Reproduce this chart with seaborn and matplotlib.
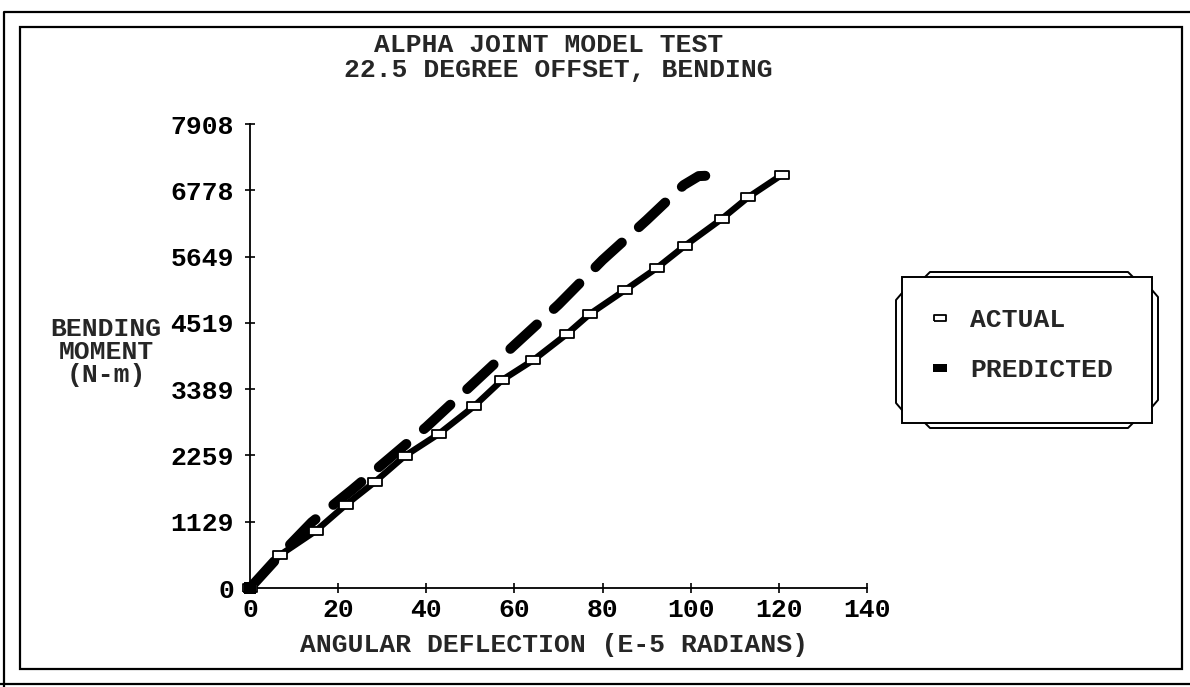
import numpy as np
import pandas as pd
import matplotlib.pyplot as plt
import seaborn as sns
from matplotlib.lines import Line2D
from matplotlib.patches import Rectangle

# --- data ---
deflection_actual = [0, 6.8, 14.9, 21.7, 28.3, 35.1, 42.8, 50.9, 57.2, 64.3,
                     71.9, 77.1, 85.1, 92.3, 98.6, 107.0, 113.1, 120.6]
moment_actual = [0, 562, 971, 1414, 1806, 2249, 2624, 3101, 3544, 3885,
                 4328, 4669, 5078, 5453, 5828, 6288, 6663, 7038]

deflection_pred = [0, 6.8, 14.0, 23.1, 31.7, 40.0, 50.0, 60.0, 70.0, 80.0,
                   90.0, 98.4, 101.8, 103.3]
moment_pred = [0, 562, 1120, 1670, 2215, 2743, 3440, 4140, 4830, 5590,
               6270, 6867, 7020, 7025]

x_ticks = [0, 20, 40, 60, 80, 100, 120, 140]
y_tick_labels = ['0', '1129', '2259', '3389', '4519', '5649', '6778', '7908']
y_max = 7908

title_lines = ['ALPHA JOINT MODEL TEST', '22.5 DEGREE OFFSET, BENDING']
series_names = ['ACTUAL', 'PREDICTED']

df_actual = pd.DataFrame({'x': deflection_actual, 'y': moment_actual})
df_pred = pd.DataFrame({'x': deflection_pred, 'y': moment_pred})

# --- style ---
sns.set_style('ticks')
plt.rcParams['font.family'] = ['Liberation Mono', 'DejaVu Sans Mono']
plt.rcParams['font.weight'] = 'bold'
plt.rcParams['axes.labelweight'] = 'bold'
FS = 19

W, H = 1190, 687
fig = plt.figure(figsize=(W / 100, H / 100), dpi=100)


def fx(px):
    return px / W


def fy(py):
    return 1 - py / H


ax = fig.add_axes([fx(250), fy(588), fx(867) - fx(250), fy(124) - fy(588)])

# predicted: thick dashed line
sns.lineplot(data=df_pred, x='x', y='y', ax=ax, color='black', lw=7.2,
             ls=(0, (3.6, 2.3)), dash_capstyle='round', solid_capstyle='round',
             marker='s', markevery=[0], markersize=9, markeredgewidth=0,
             clip_on=False, zorder=3)

# actual: solid line with flat white box markers
box = [(-1, -0.55), (1, -0.55), (1, 0.55), (-1, 0.55), (-1, -0.55)]
sns.lineplot(data=df_actual, x='x', y='y', ax=ax, color='black', lw=4.6,
             marker=box, markersize=10, markerfacecolor='white',
             markeredgecolor='black', markeredgewidth=1.3,
             clip_on=False, zorder=4)
# keep the origin square black
ax.plot([0], [0], marker='s', color='black', markersize=9, mew=0,
        clip_on=False, zorder=5)

ax.set_xlim(0, 140)
ax.set_ylim(0, y_max)
ax.set_xticks(x_ticks)
ax.set_xticklabels([str(v) for v in x_ticks])
ax.set_yticks(np.linspace(0, y_max, len(y_tick_labels)))
ax.set_yticklabels(y_tick_labels)
ax.tick_params(direction='inout', length=7, width=1.2, labelsize=FS,
               colors='black')
ax.tick_params(axis='y', pad=8)
ax.tick_params(axis='x', pad=4)
for s in ['top', 'right']:
    ax.spines[s].set_visible(False)
for s in ['left', 'bottom']:
    ax.spines[s].set_linewidth(1.3)
    ax.spines[s].set_color('black')

ax.set_xlabel('ANGULAR DEFLECTION (E-5 RADIANS)', fontsize=FS)
ax.xaxis.set_label_coords((554 - 250) / 617, (588 - 645) / 464)
ax.xaxis.label.set_va('center')
ax.set_ylabel('BENDING\nMOMENT\n(N-m)', fontsize=FS, rotation=0,
              ha='center', va='center', linespacing=0.95)
ax.yaxis.set_label_coords((106 - 250) / 617, (588 - 352) / 464)

# title
fig.text(fx(549), fy(45), title_lines[0], fontsize=FS, ha='center', va='center')
fig.text(fx(558), fy(70), title_lines[1], fontsize=FS, ha='center', va='center')

# legend
handles = [
    Line2D([], [], ls='none', marker=box, markersize=9, markerfacecolor='white',
           markeredgecolor='black', markeredgewidth=1.3),
    Line2D([], [], ls='none', marker=box, markersize=10, markerfacecolor='black',
           markeredgecolor='black', markeredgewidth=0),
]
ax.legend(handles, series_names, loc='center left',
          bbox_to_anchor=(fx(932), fy(345)), bbox_transform=fig.transFigure,
          frameon=False, fontsize=FS, handlelength=0.6, handletextpad=0.85,
          labelspacing=1.0, borderpad=0, borderaxespad=0)

# legend frame with side tabs
lw_box = 1.4
fig.add_artist(Rectangle((fx(902), fy(423)), fx(1152) - fx(902), fy(277) - fy(423),
                         transform=fig.transFigure, fill=False, lw=lw_box,
                         ec='black'))
tabs = [
    [(902, 293), (896, 300), (896, 403), (902, 410)],
    [(1152, 290), (1158, 297), (1158, 400), (1152, 407)],
    [(925, 277), (930, 272), (1128, 272), (1133, 277)],
    [(925, 423), (930, 428), (1128, 428), (1133, 423)],
]
for t in tabs:
    fig.add_artist(Line2D([fx(p[0]) for p in t], [fy(p[1]) for p in t],
                          transform=fig.transFigure, color='black', lw=lw_box))

# page frames
fig.add_artist(Rectangle((fx(20), fy(669)), fx(1182) - fx(20), fy(27) - fy(669),
                         transform=fig.transFigure, fill=False, lw=1.6,
                         ec='black'))
fig.add_artist(Line2D([fx(1190), fx(4), fx(4)], [fy(12), fy(12), fy(687)],
                      transform=fig.transFigure, color='black', lw=1.6))
fig.add_artist(Line2D([fx(0), fx(1190)], [fy(684), fy(684)],
                      transform=fig.transFigure, color='black', lw=1.6))

fig.savefig('out.png', dpi=100, facecolor='white')
